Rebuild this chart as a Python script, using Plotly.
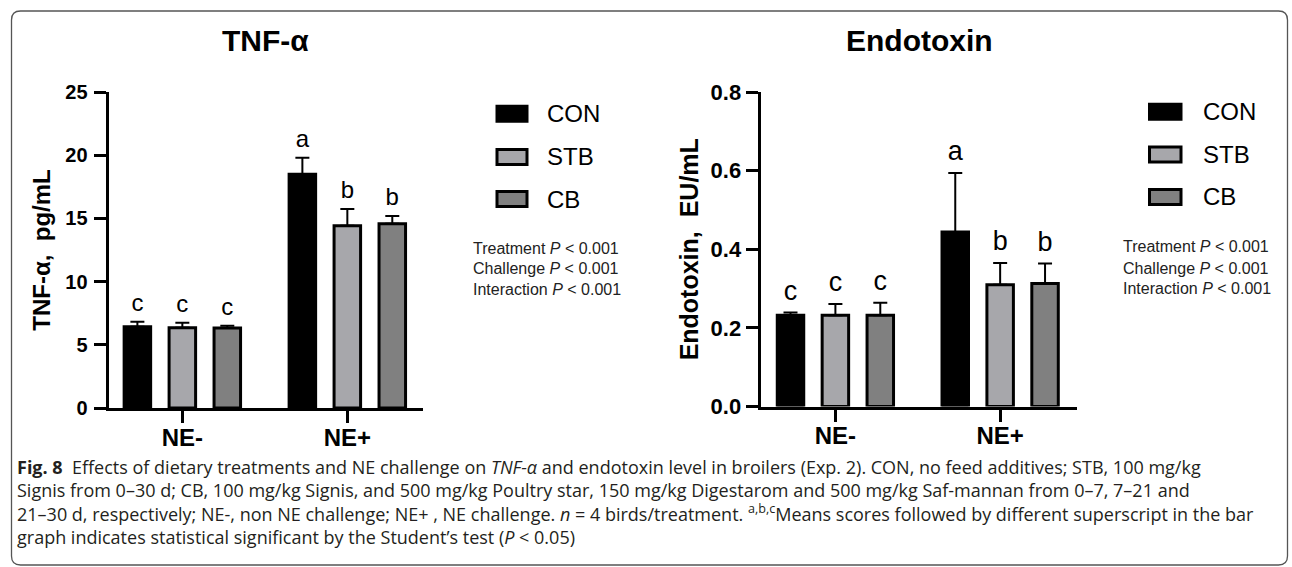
import plotly.graph_objects as go

# ---------------- data ----------------
groups = ["NE-", "NE+"]
series = ["CON", "STB", "CB"]

tnf_con = [6.43, 18.49]
tnf_stb = [6.35, 14.42]
tnf_cb = [6.33, 14.58]
tnf_con_err = [0.40, 1.31]
tnf_stb_err = [0.40, 1.32]
tnf_cb_err = [0.18, 0.61]

endo_con = [0.232, 0.444]
endo_stb = [0.232, 0.310]
endo_cb = [0.232, 0.313]
endo_con_err = [0.007, 0.150]
endo_stb_err = [0.029, 0.055]
endo_cb_err = [0.032, 0.051]

con_letters = ["c", "a"]
stb_letters = ["c", "b"]
cb_letters = ["c", "b"]

stats_lines = ["Treatment", "Challenge", "Interaction"]
stats_p = ["< 0.001", "< 0.001", "< 0.001"]

colors = {"CON": "#000000", "STB": "#a7a7ab", "CB": "#808080"}

W, H = 1292, 567
FONT = "Liberation Sans, Arial, sans-serif"


def px(x):
    return x / W


def py(y):
    return 1 - y / H


fig = go.Figure()

# (x axis, y axis, data, letter font size, invisible marker size used as text offset)
panels = [
    ("x", "y", {"CON": (tnf_con, tnf_con_err), "STB": (tnf_stb, tnf_stb_err), "CB": (tnf_cb, tnf_cb_err)}, 24, 0),
    ("x2", "y2", {"CON": (endo_con, endo_con_err), "STB": (endo_stb, endo_stb_err), "CB": (endo_cb, endo_cb_err)}, 27, 8),
]
letters = {"CON": con_letters, "STB": stb_letters, "CB": cb_letters}

for xa, ya, data, lsize, msize in panels:
    for s in series:
        vals, errs = data[s]
        fig.add_trace(go.Bar(
            x=groups, y=vals, name=s, xaxis=xa, yaxis=ya, offsetgroup=s,
            marker=dict(color=colors[s], line=dict(color="black", width=3)),
            error_y=dict(type="data", array=errs, arrayminus=[0] * len(errs), symmetric=False,
                         color="black", thickness=2, width=7),
            showlegend=False,
        ))
    for s in series:
        vals, errs = data[s]
        tops = [v + e for v, e in zip(vals, errs)]
        fig.add_trace(go.Scatter(
            x=groups, y=tops, xaxis=xa, yaxis=ya, offsetgroup=s, mode="markers+text",
            text=letters[s], textposition="top center",
            marker=dict(size=msize, opacity=0),
            textfont=dict(family=FONT, size=lsize, color="black"),
            cliponaxis=False, showlegend=False, hoverinfo="skip",
        ))

axis_common = dict(showgrid=False, zeroline=False, showline=True, linewidth=3, linecolor="black",
                   ticks="outside", ticklen=12, tickwidth=3, tickcolor="black", fixedrange=True,
                   automargin=False)

fig.update_layout(
    width=W, height=H, margin=dict(l=0, r=0, t=0, b=0, pad=0, autoexpand=False),
    paper_bgcolor="white", plot_bgcolor="white", showlegend=False,
    barmode="group", bargap=0.1825, bargroupgap=0.41,
    scattermode="group", scattergap=0.1825,
    font=dict(family=FONT, color="black"),
    xaxis=dict(domain=[px(108.6), px(422.9)], range=[-0.447, 1.458], anchor="y", type="category",
               tickfont=dict(family=FONT, size=24, weight="bold"), ticklabelstandoff=-6, **axis_common),
    yaxis=dict(domain=[py(408), py(92)], range=[0, 25], dtick=5, anchor="x",
               tickfont=dict(family=FONT, size=20, weight="bold"), ticklabelstandoff=2,
               title=dict(text="TNF-α,\u00a0 pg/mL", font=dict(family=FONT, size=24, weight="bold"), standoff=8),
               **axis_common),
    xaxis2=dict(domain=[px(760.6), px(1076.6)], range=[-0.454, 1.464], anchor="y2", type="category",
                tickfont=dict(family=FONT, size=24, weight="bold"), ticklabelstandoff=-6, **axis_common),
    yaxis2=dict(domain=[py(406.5), py(92)], range=[0, 0.8], dtick=0.2, tickformat=".1f", anchor="x2",
                tickfont=dict(family=FONT, size=22, weight="bold"), ticklabelstandoff=0,
                title=dict(text="Endotoxin,\u00a0 EU/mL", font=dict(family=FONT, size=25, weight="bold"), standoff=5),
                **axis_common),
)

ann = []
# panel titles
ann.append(dict(text="<b>TNF-α</b>", x=px(265), y=py(40), xref="paper", yref="paper", showarrow=False,
                font=dict(family=FONT, size=30, color="black"), xanchor="center", yanchor="middle"))
ann.append(dict(text="<b>Endotoxin</b>", x=px(919), y=py(40), xref="paper", yref="paper", showarrow=False,
                font=dict(family=FONT, size=30, color="black"), xanchor="center", yanchor="middle"))

shapes = []
# manual legends
legend_specs = [
    (495.5, 528.5, 545, [113.8, 157.0, 199.0]),
    (1148.0, 1182.5, 1201, [111.7, 154.5, 197.0]),
]
for bx0, bx1, tx, ys in legend_specs:
    for s, yc in zip(series, ys):
        shapes.append(dict(type="rect", xref="paper", yref="paper",
                           x0=px(bx0 + 1.5), x1=px(bx1 - 1.5), y0=py(yc + 7.5), y1=py(yc - 7.5),
                           fillcolor=colors[s], line=dict(color="black", width=3)))
        ann.append(dict(text=s, x=px(tx), y=py(yc), xref="paper", yref="paper", showarrow=False,
                        xanchor="left", yanchor="middle", font=dict(family=FONT, size=24, color="black")))

# stats text
for sx, sys_ in [(470.6, [248, 269, 289]), (1121, [246, 268, 288])]:
    for name, p, yc in zip(stats_lines, stats_p, sys_):
        ann.append(dict(text=f"{name} <i>P</i> {p}", x=px(sx), y=py(yc), xref="paper", yref="paper",
                        showarrow=False, xanchor="left", yanchor="middle",
                        font=dict(family=FONT, size=16, color="#222222")))

# caption (one text block)
CAP = "Open Sans, Noto Sans, sans-serif"
caption_lines = [
    "<b>Fig. 8</b>  Effects of dietary treatments and NE challenge on <i>TNF-α</i> and endotoxin level in broilers (Exp. 2). CON, no feed additives; STB, 100 mg/kg",
    "Signis from 0–30 d; CB, 100 mg/kg Signis, and 500 mg/kg Poultry star, 150 mg/kg Digestarom and 500 mg/kg Saf-mannan from 0–7, 7–21 and",
    "21–30 d, respectively; NE-, non NE challenge; NE+ , NE challenge. <i>n</i> = 4 birds/treatment. <sup>a,b,c</sup>Means scores followed by different superscript in the bar",
    "graph indicates statistical significant by the Student’s test (<i>P</i> < 0.05)",
]
ann.append(dict(text="<br>".join(caption_lines), x=px(15), y=py(502), xref="paper", yref="paper",
                showarrow=False, xanchor="left", yanchor="middle", align="left",
                font=dict(family=CAP, size=18, color="#231f20")))

# rounded frame
x0, x1, y0, y1, r = 11.5, 1287.5, 11, 565, 9
path = (f"M {px(x0 + r)} {py(y0)} L {px(x1 - r)} {py(y0)} Q {px(x1)} {py(y0)} {px(x1)} {py(y0 + r)} "
        f"L {px(x1)} {py(y1 - r)} Q {px(x1)} {py(y1)} {px(x1 - r)} {py(y1)} "
        f"L {px(x0 + r)} {py(y1)} Q {px(x0)} {py(y1)} {px(x0)} {py(y1 - r)} "
        f"L {px(x0)} {py(y0 + r)} Q {px(x0)} {py(y0)} {px(x0 + r)} {py(y0)} Z")
shapes.append(dict(type="path", path=path, xref="paper", yref="paper",
                   line=dict(color="#555555", width=1.3), layer="below"))

fig.update_layout(annotations=ann, shapes=shapes)

fig.write_html("out.html", config={"displayModeBar": False, "staticPlot": True},
               post_script="document.body.style.margin='0';")
